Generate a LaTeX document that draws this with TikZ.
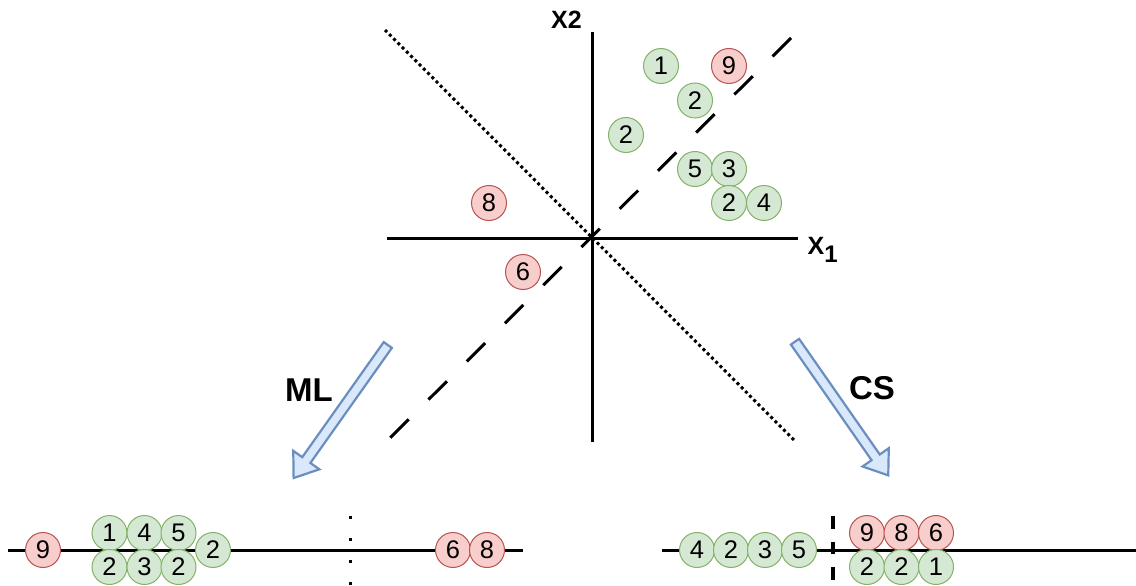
\documentclass[tikz,border=0pt]{standalone}
\usepackage{fontspec}
\setmainfont{Liberation Sans}
\definecolor{gfill}{HTML}{D5E8D4}
\definecolor{gdraw}{HTML}{82B366}
\definecolor{rfill}{HTML}{F8CECC}
\definecolor{rdraw}{HTML}{B85450}
\definecolor{afill}{HTML}{DAE8FC}
\definecolor{adraw}{HTML}{6C8EBF}
\begin{document}
\begin{tikzpicture}[x=1pt,y=-1pt,
  ball/.style={circle, minimum size=35pt, inner sep=0pt, line width=1pt, font=\fontsize{25.5}{25.5}\selectfont},
  gball/.style={ball, fill=gfill, draw=gdraw},
  rball/.style={ball, fill=rfill, draw=rdraw},
  axisline/.style={line width=3pt},
  dotline/.style={line width=3pt, dash pattern=on 3pt off 3pt},
  dashline/.style={line width=3pt, dash pattern=on 26pt off 28pt},
  lbl/.style={font=\bfseries\fontsize{25}{25}\selectfont, inner sep=0pt},
  biglbl/.style={font=\bfseries\fontsize{33}{33}\selectfont, inner sep=0pt},
  blockarrow/.style={fill=afill, draw=adraw, line width=2.2pt, line join=miter}]
\useasboundingbox (0,0) rectangle (1136,586);

% ---- top plot ----
\coordinate (vt) at (592,32);
\coordinate (vb) at (592,442);
\coordinate (hl) at (387,238);
\coordinate (hr) at (798,238);
\coordinate (dt1) at (385,30);
\coordinate (dt2) at (795,441);
\coordinate (ds1) at (791,38);
\coordinate (ds2) at (385,443);
\draw[axisline] (vt) -- (vb);
\draw[axisline] (hl) -- (hr);
\draw[dotline] (dt1) -- (dt2);
\draw[dashline] (ds1) -- (ds2);

\node[lbl, anchor=base] (x2) at (566.5,29) {X2};
\node[lbl, anchor=base west] (x1) at (807.5,254) {X{\fontsize{24}{24}\selectfont\raisebox{-8pt}{1}}};

\node[gball] (t1) at (661,66) {1};
\node[rball] (t9) at (729,66) {9};
\node[gball] (t2a) at (695,100.5) {2};
\node[gball] (t2b) at (626,135) {2};
\node[gball] (t5) at (695,169) {5};
\node[gball] (t3) at (729,169) {3};
\node[gball] (t2c) at (729,203) {2};
\node[gball] (t4) at (764,203) {4};
\node[rball] (t8) at (489,203) {8};
\node[rball] (t6) at (523,272) {6};

% ---- arrows ----
\begin{scope}[shift={(387.8,345)}, rotate=234.7]
\draw[blockarrow] (0,5) -- (141,5) -- (141,16) -- (163,0) -- (141,-16) -- (141,-5) -- (0,-5) -- cycle;
\end{scope}
\begin{scope}[shift={(795,341.7)}, rotate=304.9]
\draw[blockarrow] (0,5) -- (141,5) -- (141,16) -- (163,0) -- (141,-16) -- (141,-5) -- (0,-5) -- cycle;
\end{scope}
\node[biglbl] (ml) at (309,390) {ML};
\node[biglbl] (cs) at (872,388) {CS};

% ---- bottom left ----
\coordinate (l1) at (8,550);
\coordinate (l2) at (523,550);
\coordinate (lv1) at (350,516);
\coordinate (lv2) at (350,586);
\draw[axisline] (l1) -- (l2);
\draw[line width=3pt, dash pattern=on 3pt off 19pt] (lv1) -- (lv2);
\node[rball] (b9) at (43,550) {9};
\node[gball] (b1) at (109.5,533) {1};
\node[gball] (b4) at (144.5,533) {4};
\node[gball] (b5) at (178.5,533) {5};
\node[gball] (b2a) at (109.5,567) {2};
\node[gball] (b3) at (144.5,567) {3};
\node[gball] (b2b) at (178.5,567) {2};
\node[gball] (b2c) at (213,550) {2};
\node[rball] (b6) at (453,550) {6};
\node[rball] (b8) at (487,550) {8};

% ---- bottom right ----
\coordinate (r1) at (662,550);
\coordinate (r2) at (1136,550);
\coordinate (rv1) at (833,516);
\coordinate (rv2) at (833,580);
\draw[axisline] (r1) -- (r2);
\draw[line width=3.5pt, dash pattern=on 12.5pt off 13pt] (rv1) -- (rv2);
\node[gball] (c4) at (697,550) {4};
\node[gball] (c2a) at (731,550) {2};
\node[gball] (c3) at (765,550) {3};
\node[gball] (c5) at (799,550) {5};
\node[rball] (c9) at (867,533) {9};
\node[rball] (c8) at (901.5,533) {8};
\node[rball] (c6) at (936,533) {6};
\node[gball] (c2b) at (867,567) {2};
\node[gball] (c2c) at (901.5,567) {2};
\node[gball] (c1) at (936,567) {1};
\end{tikzpicture}
\end{document}
